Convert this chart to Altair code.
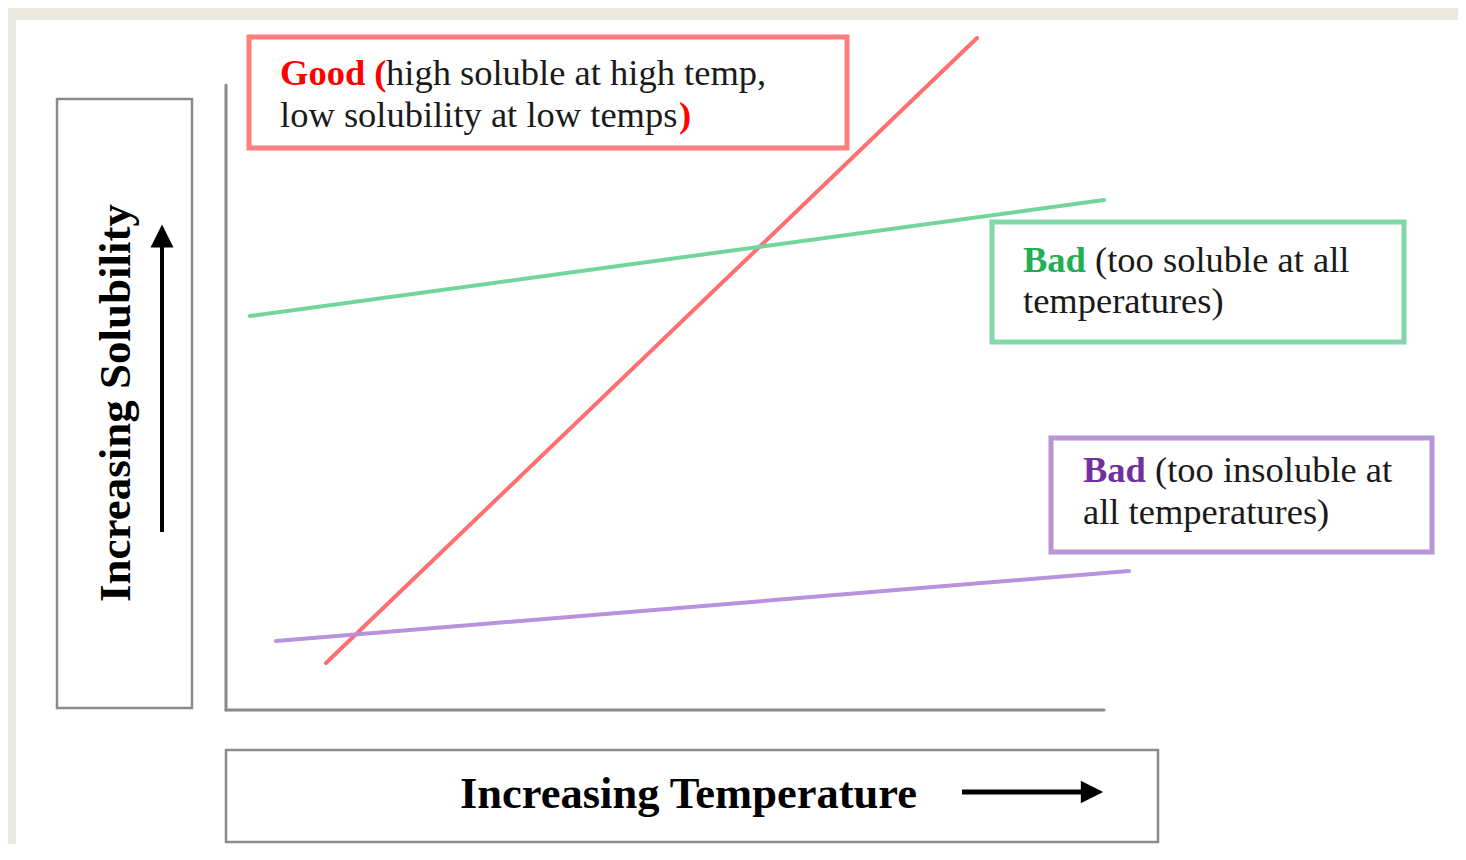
import altair as alt
import pandas as pd

# ---- diagram data (coordinates, in page pixels) ----
frame_x1 = [8, 8]
frame_x2 = [1458, 16]
frame_y1 = [8, 8]
frame_y2 = [20, 844]

box_names = ["y label", "Good", "Bad soluble", "Bad insoluble", "x label"]
box_x1 = [57, 249, 992, 1051, 226]
box_x2 = [192, 847, 1404, 1432, 1158]
box_y1 = [99, 37, 222, 438, 750]
box_y2 = [708, 148, 342, 552, 842]
box_colors = ["#8a8a8a", "#ff7d7d", "#82d8a7", "#b793d8", "#8a8a8a"]
box_widths = [2.5, 5, 5, 5, 2.5]

curve_names = ["Good", "Bad (too soluble)", "Bad (too insoluble)", "y axis", "x axis"]
curve_x1 = [326, 250, 276, 226, 226]
curve_y1 = [663, 316, 641, 85, 710]
curve_x2 = [977, 1104, 1129, 226, 1104]
curve_y2 = [38, 200, 571, 710, 710]
curve_colors = ["#ff6f6f", "#72d69c", "#b892dc", "#8a8a8a", "#8a8a8a"]
curve_widths = [4, 4, 4, 3, 3]

arrow_x1 = [162, 962]
arrow_y1 = [532, 792]
arrow_x2 = [162, 1084]
arrow_y2 = [240, 792]
arrow_widths = [4, 5]

head_up_x, head_up_y = [162], [236]
head_right_x, head_right_y = [1092], [792]

bold_texts = ["Good (", ")", "Bad", "Bad"]
bold_x = [280, 679, 1023, 1083]
bold_y = [85, 127, 272, 482]
bold_colors = ["#ff0000", "#ff0000", "#1faf55", "#7030a0"]

plain_texts = ["high soluble at high temp,", "low solubility at low temps",
               "(too soluble at all", "temperatures)",
               "(too insoluble at", "all temperatures)"]
plain_x = [386, 280, 1095, 1023, 1155, 1083]
plain_y = [85, 127, 272, 313, 482, 524]

title_texts = ["Increasing Solubility", "Increasing Temperature"]
title_x = [130, 460]
title_y = [403, 808]
title_angle = [270, 0]
title_align = ["center", "left"]

# ---- scales that map data straight onto page pixels ----
xs = alt.Scale(domain=[8, 1458], nice=False, zero=False)
ys = alt.Scale(domain=[844, 8], nice=False, zero=False)


def X(f):
    return alt.X(f, type="quantitative", scale=xs, axis=None)


def Y(f):
    return alt.Y(f, type="quantitative", scale=ys, axis=None)


frame = alt.Chart(pd.DataFrame({"x": frame_x1, "x2": frame_x2, "y": frame_y1, "y2": frame_y2})).mark_rect(
    color="#e9e9df"
).encode(x=X("x"), x2="x2", y=Y("y"), y2="y2")

boxes = alt.Chart(pd.DataFrame({"name": box_names, "x": box_x1, "x2": box_x2, "y": box_y1, "y2": box_y2,
                                "c": box_colors, "w": box_widths})).mark_rect(fillOpacity=0).encode(
    x=X("x"), x2="x2", y=Y("y"), y2="y2",
    stroke=alt.Stroke("c:N", scale=None),
    strokeWidth=alt.StrokeWidth("w:Q", scale=None),
)

curves = alt.Chart(pd.DataFrame({"name": curve_names, "x": curve_x1, "y": curve_y1, "x2": curve_x2,
                                 "y2": curve_y2, "c": curve_colors, "w": curve_widths})).mark_rule(
    strokeCap="round"
).encode(
    x=X("x"), y=Y("y"), x2="x2", y2="y2",
    color=alt.Color("c:N", scale=None),
    strokeWidth=alt.StrokeWidth("w:Q", scale=None),
)

arrows = alt.Chart(pd.DataFrame({"x": arrow_x1, "y": arrow_y1, "x2": arrow_x2, "y2": arrow_y2,
                                 "w": arrow_widths})).mark_rule(color="black").encode(
    x=X("x"), y=Y("y"), x2="x2", y2="y2",
    strokeWidth=alt.StrokeWidth("w:Q", scale=None),
)

head_up = alt.Chart(pd.DataFrame({"x": head_up_x, "y": head_up_y})).mark_point(
    shape="M0,-1L-1,1L1,1Z", filled=True, color="black", opacity=1, size=529
).encode(x=X("x"), y=Y("y"))

head_right = alt.Chart(pd.DataFrame({"x": head_right_x, "y": head_right_y})).mark_point(
    shape="M1,0L-1,-1L-1,1Z", filled=True, color="black", opacity=1, size=500
).encode(x=X("x"), y=Y("y"))

bold = alt.Chart(pd.DataFrame({"t": bold_texts, "x": bold_x, "y": bold_y, "c": bold_colors})).mark_text(
    font="Liberation Serif", fontWeight="bold", fontSize=36.5, align="left", baseline="alphabetic"
).encode(x=X("x"), y=Y("y"), text="t:N", color=alt.Color("c:N", scale=None))

plain = alt.Chart(pd.DataFrame({"t": plain_texts, "x": plain_x, "y": plain_y})).mark_text(
    font="Liberation Serif", fontSize=36.5, align="left", baseline="alphabetic", color="#1a1a1a"
).encode(x=X("x"), y=Y("y"), text="t:N")

title_v = alt.Chart(pd.DataFrame({"t": title_texts[:1], "x": title_x[:1], "y": title_y[:1]})).mark_text(
    font="Liberation Serif", fontWeight="bold", fontSize=45, align=title_align[0],
    baseline="alphabetic", angle=title_angle[0], color="black"
).encode(x=X("x"), y=Y("y"), text="t:N")

title_h = alt.Chart(pd.DataFrame({"t": title_texts[1:], "x": title_x[1:], "y": title_y[1:]})).mark_text(
    font="Liberation Serif", fontWeight="bold", fontSize=44.5, align=title_align[1],
    baseline="alphabetic", angle=title_angle[1], color="black"
).encode(x=X("x"), y=Y("y"), text="t:N")

chart = alt.layer(
    frame, boxes, curves, arrows, head_up, head_right, bold, plain, title_v, title_h
).properties(
    width=1450, height=836,
    autosize=alt.AutoSizeParams(type="fit", contains="padding"),
    padding=0,
    background="white",
).configure_view(stroke=None)

chart.save("out.html", embed_options={"renderer": "svg", "actions": False})
